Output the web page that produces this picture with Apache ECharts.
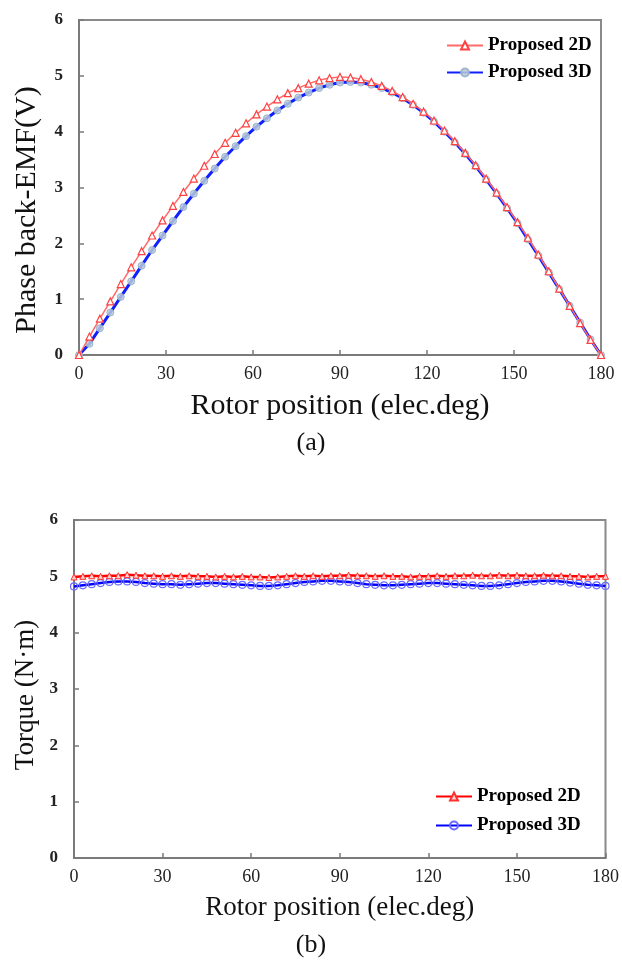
<!DOCTYPE html>
<html><head><meta charset="utf-8">
<script src="https://cdn.jsdelivr.net/npm/echarts@6/dist/echarts.min.js"></script>
<style>html,body{margin:0;padding:0;background:#fff}#c{width:622px;height:968px}</style>
</head><body><div id="c"></div>
<script>
// (a) back-EMF, rotor position in elec.deg (3.6 deg step)
const emfAngles = [0,3.6,7.2,10.8,14.4,18,21.6,25.2,28.8,32.4,36,39.6,43.2,46.8,50.4,54,57.6,61.2,64.8,68.4,72,75.6,79.2,82.8,86.4,90,93.6,97.2,100.8,104.4,108,111.6,115.2,118.8,122.4,126,129.6,133.2,136.8,140.4,144,147.6,151.2,154.8,158.4,162,165.6,169.2,172.8,176.4,180];
const emf2D = [0,0.33,0.65,0.96,1.27,1.57,1.86,2.14,2.41,2.67,2.92,3.16,3.39,3.60,3.80,3.98,4.15,4.31,4.45,4.58,4.69,4.78,4.86,4.92,4.96,4.98,4.97,4.94,4.89,4.82,4.73,4.62,4.50,4.36,4.20,4.02,3.83,3.62,3.40,3.16,2.91,2.65,2.38,2.10,1.80,1.50,1.19,0.88,0.57,0.27,0.0];
const emf3D = [0,0.20,0.48,0.76,1.04,1.32,1.60,1.88,2.14,2.40,2.65,2.89,3.12,3.34,3.55,3.74,3.92,4.09,4.24,4.38,4.50,4.61,4.70,4.78,4.84,4.88,4.89,4.88,4.84,4.78,4.70,4.60,4.48,4.34,4.18,4.00,3.81,3.60,3.38,3.14,2.89,2.63,2.36,2.07,1.78,1.48,1.18,0.88,0.58,0.28,0.0];
// (b) torque (3 deg step)
const tqAngles = [0,3,6,9,12,15,18,21,24,27,30,33,36,39,42,45,48,51,54,57,60,63,66,69,72,75,78,81,84,87,90,93,96,99,102,105,108,111,114,117,120,123,126,129,132,135,138,141,144,147,150,153,156,159,162,165,168,171,174,177,180];
const tq2D = [4.99,5.00,5.01,5.00,5.01,5.01,5.03,5.02,5.01,5.01,5.00,5.01,5.00,5.01,5.00,5.00,4.99,5.00,4.99,5.00,4.99,4.99,4.98,4.99,5.00,5.01,5.00,5.01,5.00,5.01,5.01,5.02,5.01,5.01,5.00,5.01,5.00,5.00,4.99,5.00,5.00,5.01,5.00,5.01,5.01,5.02,5.01,5.01,5.02,5.01,5.02,5.01,5.01,5.02,5.01,5.01,5.00,5.00,4.99,5.00,5.00];
const tq3D = [4.82,4.84,4.86,4.88,4.90,4.91,4.91,4.90,4.88,4.87,4.86,4.86,4.85,4.86,4.87,4.88,4.88,4.87,4.86,4.85,4.84,4.83,4.83,4.84,4.86,4.88,4.90,4.91,4.92,4.92,4.91,4.90,4.88,4.86,4.85,4.84,4.84,4.85,4.86,4.87,4.88,4.88,4.87,4.86,4.85,4.84,4.83,4.83,4.84,4.86,4.88,4.90,4.91,4.92,4.92,4.91,4.89,4.87,4.85,4.84,4.83];
const xTicks = [0,30,60,90,120,150,180];
const yTicks = [0,1,2,3,4,5,6];
const seriesNames = ['Proposed 2D','Proposed 3D'];

const pair = (xs, ys) => xs.map((x, i) => [x, ys[i]]);
const FONT = 'Liberation Serif';
const axisX = (gi, name, gap, fs) => ({
  type: 'value', gridIndex: gi, min: xTicks[0], max: xTicks[xTicks.length - 1], interval: xTicks[1] - xTicks[0],
  name: name, nameLocation: 'middle', nameGap: gap,
  nameTextStyle: { fontFamily: FONT, fontSize: fs, color: '#111' },
  axisLine: { show: true, lineStyle: { color: '#7a7a7a', width: 2 } },
  axisTick: { show: true, inside: true, length: 5, lineStyle: { color: '#7a7a7a', width: 1.5 } },
  axisLabel: { fontFamily: FONT, fontSize: 18, color: '#222', margin: 10 },
  splitLine: { show: false }
});
const axisY = (gi) => ({
  type: 'value', gridIndex: gi, min: yTicks[0], max: yTicks[yTicks.length - 1], interval: yTicks[1] - yTicks[0],
  axisLine: { show: true, lineStyle: { color: '#7a7a7a', width: 2 } },
  axisTick: { show: true, inside: true, length: 5, lineStyle: { color: '#7a7a7a', width: 1.5 } },
  axisLabel: { fontFamily: FONT, fontSize: 17, color: '#222', fontWeight: 'bold', margin: 16 },
  splitLine: { show: false }
});
const legendText = { fontFamily: FONT, fontSize: 19, fontWeight: 'bold', color: '#000' };

const chart = echarts.init(document.getElementById('c'), null, { renderer: 'canvas' });
chart.setOption({
  animation: false,
  backgroundColor: '#fff',
  grid: [
    { left: 79, top: 20, width: 522, height: 335, show: true, borderColor: '#8a8a8a', borderWidth: 2, backgroundColor: 'transparent' },
    { left: 74, top: 520, width: 532, height: 338, show: true, borderColor: '#8a8a8a', borderWidth: 2, backgroundColor: 'transparent' }
  ],
  xAxis: [axisX(0, 'Rotor position (elec.deg)', 36, 30), axisX(1, 'Rotor position (elec.deg)', 36, 27)],
  yAxis: [axisY(0), axisY(1)],
  legend: [
    { orient: 'vertical', left: 441, top: 31, itemGap: 8, itemWidth: 36, itemHeight: 10,
      textStyle: legendText,
      data: [{ name: seriesNames[0] }, { name: seriesNames[1] }] },
    { orient: 'vertical', left: 430, top: 782, itemGap: 10, itemWidth: 36, itemHeight: 10,
      textStyle: legendText,
      data: [{ name: seriesNames[0] + ' ' }, { name: seriesNames[1] + ' ' }] }
  ],
  graphic: [
    { type: 'text', x: 27, y: 210, rotation: Math.PI / 2,
      style: { text: 'Phase back-EMF(V)', font: '30px "Liberation Serif"', fill: '#111', align: 'center', verticalAlign: 'middle' } },
    { type: 'text', x: 26, y: 695, rotation: Math.PI / 2,
      style: { text: 'Torque (N·m)', font: '27px "Liberation Serif"', fill: '#111', align: 'center', verticalAlign: 'middle' } },
    { type: 'text', left: 'center', top: 430, style: { text: '(a)', font: '26px "Liberation Serif"', fill: '#111' } },
    { type: 'text', left: 'center', top: 932, style: { text: '(b)', font: '26px "Liberation Serif"', fill: '#111' } }
  ],
  series: [
    { name: seriesNames[0], type: 'line', xAxisIndex: 0, yAxisIndex: 0, data: pair(emfAngles, emf2D),
      symbol: 'triangle', symbolSize: 7, z: 3,
      lineStyle: { color: '#ff6a6a', width: 1.5 },
      itemStyle: { color: '#ffffff', borderColor: '#ff4040', borderWidth: 1.2 } },
    { name: seriesNames[1], type: 'line', xAxisIndex: 0, yAxisIndex: 0, data: pair(emfAngles, emf3D),
      symbol: 'circle', symbolSize: 7, z: 2,
      lineStyle: { color: '#1020ff', width: 3 },
      itemStyle: { color: '#b8cadb', borderColor: '#94aec6', borderWidth: 1, opacity: 0.85 } },
    { name: seriesNames[0] + ' ', type: 'line', xAxisIndex: 1, yAxisIndex: 1, data: pair(tqAngles, tq2D),
      symbol: 'triangle', symbolSize: 6, z: 3,
      lineStyle: { color: '#ff0000', width: 2.5 },
      itemStyle: { color: '#ffd0d0', borderColor: '#ff3030', borderWidth: 1 } },
    { name: seriesNames[1] + ' ', type: 'line', xAxisIndex: 1, yAxisIndex: 1, data: pair(tqAngles, tq3D),
      symbol: 'circle', symbolSize: 7, z: 2,
      lineStyle: { color: '#0000ff', width: 2.5 },
      itemStyle: { color: 'rgba(255,255,255,0)', borderColor: '#6a6aff', borderWidth: 1.2 } }
  ]
});
</script></body></html>
